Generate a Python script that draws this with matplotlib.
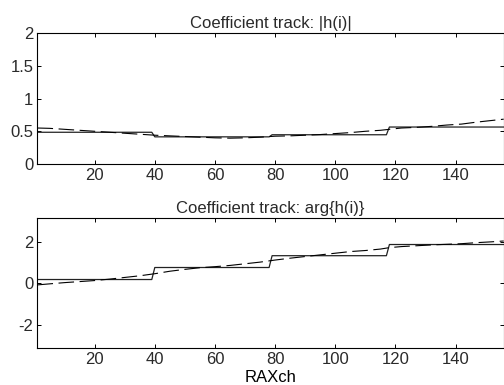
import numpy as np
import matplotlib
matplotlib.use('Agg')
import matplotlib.pyplot as plt

plt.rcParams['font.family'] = ['Liberation Sans', 'DejaVu Sans']
plt.rcParams['font.size'] = 12
plt.rcParams['axes.unicode_minus'] = False
plt.rcParams['text.color'] = '#2a2a2a'
plt.rcParams['xtick.labelcolor'] = '#2a2a2a'
plt.rcParams['ytick.labelcolor'] = '#2a2a2a'

# step (block) estimates: segment starts/ends and levels
seg_start = [1, 40, 79, 118]
seg_end = [39, 78, 117, 156]
mag_levels = [0.485, 0.415, 0.447, 0.565]
arg_levels = [0.18, 0.76, 1.33, 1.87]

# smooth track (dashed)
track_x = [1, 5, 10, 15, 20, 25, 30, 35, 40, 45, 50, 55, 60, 65, 70, 75, 80,
           85, 90, 95, 100, 105, 110, 115, 118, 122, 127, 132, 137, 142, 147, 152, 156]
track_mag = [0.55, 0.545, 0.53, 0.515, 0.50, 0.485, 0.47, 0.455, 0.44, 0.43, 0.42,
             0.41, 0.40, 0.395, 0.40, 0.41, 0.425, 0.43, 0.44, 0.45, 0.465, 0.48,
             0.50, 0.515, 0.53, 0.55, 0.56, 0.575, 0.595, 0.61, 0.64, 0.665, 0.685]
track_arg = [-0.08, -0.03, 0.03, 0.08, 0.13, 0.2, 0.28, 0.36, 0.46, 0.58, 0.67,
             0.75, 0.8, 0.86, 0.94, 1.02, 1.12, 1.21, 1.29, 1.37, 1.45, 1.53,
             1.58, 1.65, 1.72, 1.77, 1.81, 1.85, 1.88, 1.91, 1.96, 2.0, 2.04]

xticks = [20, 40, 60, 80, 100, 120, 140]


def steps(levels):
    xs, ys = [], []
    for s, e, v in zip(seg_start, seg_end, levels):
        xs += [s, e]
        ys += [v, v]
    return xs, ys


fig = plt.figure(figsize=(5.04, 3.85), dpi=100)
ax1 = fig.add_axes([0.0744, 0.574, 0.925, 0.340])
ax2 = fig.add_axes([0.0744, 0.0953, 0.925, 0.338])

for ax, lev, tr in [(ax1, mag_levels, track_mag), (ax2, arg_levels, track_arg)]:
    sx, sy = steps(lev)
    ax.plot(sx, sy, color='#222222', lw=0.9)
    ax.plot(track_x, tr, color='black', lw=0.8, dashes=(14, 5))
    ax.set_xlim(1, 156)
    ax.set_xticks(xticks)
    ax.tick_params(direction='in', top=True, right=True, length=3, width=0.7, pad=3)
    for sp in ax.spines.values():
        sp.set_linewidth(0.8)

ax1.set_ylim(0, 2)
ax1.set_yticks([0, 0.5, 1, 1.5, 2])
ax1.set_yticklabels(['0', '0.5', '1', '1.5', '2'])
ax1.set_title('Coefficient track: |h(i)|', fontsize=12, pad=4)

ax2.set_ylim(-np.pi, np.pi)
ax2.set_yticks([-2, 0, 2])
ax2.set_title('Coefficient track: arg{h(i)}', fontsize=12, pad=4)
ax2.set_xlabel('RAXch', labelpad=2)

fig.savefig('out.png', dpi=100)
